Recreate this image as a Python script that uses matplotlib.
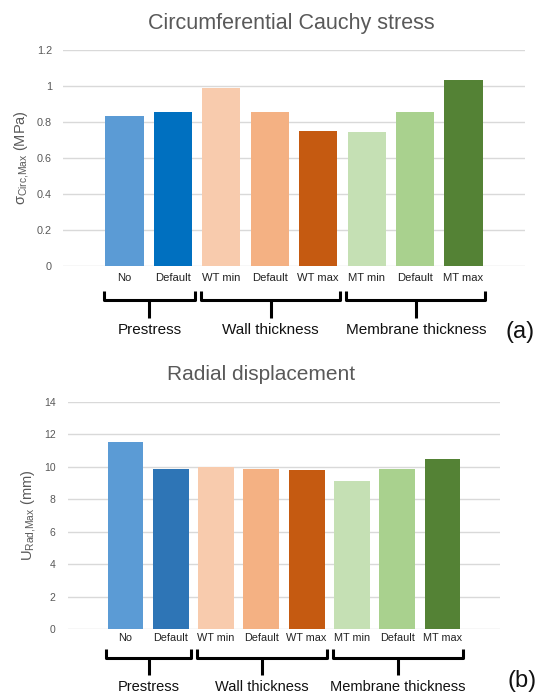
import matplotlib
matplotlib.use('Agg')
import matplotlib.pyplot as plt

plt.rcParams['font.family'] = ['Liberation Sans', 'DejaVu Sans']
plt.rcParams['mathtext.fontset'] = 'custom'
plt.rcParams['mathtext.rm'] = 'Liberation Sans'
plt.rcParams['mathtext.it'] = 'Liberation Sans:italic'

# data
cases = ['No', 'Default', 'WT min', 'Default', 'WT max', 'MT min', 'Default', 'MT max']
groups = ['Prestress', 'Wall thickness', 'Membrane thickness']
group_span = [(0, 1), (2, 4), (5, 7)]
stress = [0.835, 0.856, 0.99, 0.856, 0.75, 0.746, 0.856, 1.033]
displacement = [11.54, 9.85, 9.98, 9.85, 9.78, 9.1, 9.85, 10.47]

colors_a = ['#5B9BD5', '#0070C0', '#F8CBAD', '#F4B183', '#C55A11', '#C5E0B4', '#A9D18E', '#548235']
colors_b = ['#5B9BD5', '#2E75B6', '#F8CBAD', '#F4B183', '#C55A11', '#C5E0B4', '#A9D18E', '#548235']

GREY = '#595959'


def panel(ax, vals, colors, ymax, ystep, ylabel, tick_fs, tick_pad, ypad, br):
    # br = (y of bar line, y of end tips, y of stem bottom, y of label, label size)
    x = list(range(len(vals)))
    ax.bar(x, vals, width=0.79, color=colors, zorder=3)
    ax.set_xlim(-1.27, len(vals) - 1 + 1.27)
    ax.set_ylim(0, ymax)
    ticks = [i * ystep for i in range(int(round(ymax / ystep)) + 1)]
    ax.set_yticks(ticks)
    ax.set_yticklabels(['%g' % t for t in ticks])
    ax.set_xticks(x)
    ax.set_xticklabels(cases)
    ax.grid(axis='y', color='#d9d9d9', linewidth=1.0, zorder=0)
    for s in ax.spines.values():
        s.set_visible(False)
    ax.tick_params(axis='both', length=0)
    ax.tick_params(axis='y', labelsize=tick_fs, labelcolor=GREY, pad=ypad)
    ax.tick_params(axis='x', labelsize=tick_fs + 0.3, labelcolor='#222222', pad=tick_pad)
    ax.set_ylabel(ylabel, fontsize=10.5, color=GREY)

    tr = ax.get_xaxis_transform()
    y_line, y_tip, y_stem, y_lab, lab_fs = br
    for name, (s, e) in zip(groups, group_span):
        x0, x1 = s - 0.42, e + 0.45
        xm = (x0 + x1) / 2
        ax.plot([x0, x0, x1, x1], [y_tip, y_line, y_line, y_tip], color='black',
                lw=2.2, transform=tr, clip_on=False, solid_capstyle='butt',
                solid_joinstyle='round')
        ax.plot([xm, xm], [y_line, y_stem], color='black', lw=2.2,
                transform=tr, clip_on=False, solid_capstyle='butt')
        ax.text(xm, y_lab, name, transform=tr, ha='center', va='center',
                fontsize=lab_fs, color='#111111')


fig = plt.figure(figsize=(5.37, 6.97), dpi=100)

ax1 = fig.add_axes([63 / 537, 1 - 266 / 697, 462 / 537, 216 / 697])
panel(ax1, stress, colors_a, 1.2, 0.2, r'σ$_{\mathrm{Circ{,}Max}}$ (MPa)',
      7.8, 5, 8, (-0.157, -0.115, -0.241, -0.296, 11))

ax2 = fig.add_axes([68 / 537, 1 - 629.2 / 697, 432 / 537, 227.5 / 697])
panel(ax2, displacement, colors_b, 14, 2, r'U$_{\mathrm{Rad{,}Max}}$ (mm)',
      7.5, 3, 9, (-0.127, -0.088, -0.201, -0.254, 10.5))

fig.text(291 / 537, 1 - 23 / 697, 'Circumferential Cauchy stress', ha='center', va='center',
         fontsize=15.5, color=GREY)
fig.text(260.6 / 537, 1 - 375 / 697, 'Radial displacement', ha='center', va='center',
         fontsize=15, color=GREY)
fig.text(520 / 537, 1 - 332 / 697, '(a)', ha='center', va='center', fontsize=17, color='#111111')
fig.text(522 / 537, 1 - 681 / 697, '(b)', ha='center', va='center', fontsize=17, color='#111111')

fig.savefig('out.png', dpi=100)
